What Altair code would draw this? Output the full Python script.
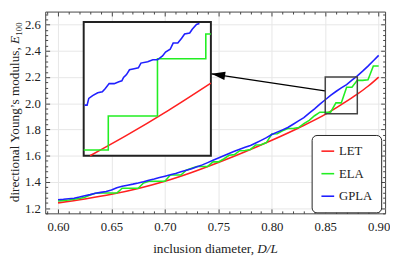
import math
import altair as alt
import pandas as pd

# ---------------- data ----------------
SERIES = ["LET", "ELA", "GPLA"]
COLORS = ["#ff2020", "#22ee22", "#2020ff"]

X_MAIN = [0.600, 0.605, 0.610, 0.615, 0.620, 0.625, 0.630, 0.635, 0.640, 0.645,
          0.650, 0.655, 0.660, 0.665, 0.670, 0.675, 0.680, 0.685, 0.690, 0.695,
          0.700, 0.705, 0.710, 0.715, 0.720, 0.725, 0.730, 0.735, 0.740, 0.745,
          0.750, 0.755, 0.760, 0.765, 0.770, 0.775, 0.780, 0.785, 0.790, 0.795,
          0.800, 0.805, 0.810, 0.815, 0.820, 0.825, 0.830, 0.835, 0.840, 0.845,
          0.850, 0.855, 0.860, 0.865, 0.870, 0.875, 0.880, 0.885, 0.890, 0.895,
          0.900]
ELA_MAIN = [1.254, 1.258, 1.262, 1.267, 1.274, 1.283, 1.300, 1.313, 1.315, 1.315,
            1.315, 1.315, 1.352, 1.352, 1.352, 1.352, 1.392, 1.405, 1.405, 1.405,
            1.405, 1.452, 1.452, 1.452, 1.489, 1.505, 1.518, 1.518, 1.518, 1.553,
            1.553, 1.575, 1.603, 1.608, 1.638, 1.640, 1.648, 1.682, 1.684, 1.700,
            1.765, 1.768, 1.790, 1.807, 1.808, 1.815, 1.845, 1.870, 1.905, 1.932,
            1.932, 1.932, 2.003, 2.003, 2.123, 2.123, 2.175, 2.175, 2.180, 2.284,
            2.284]
GPLA_MAIN = [1.264, 1.267, 1.271, 1.275, 1.284, 1.294, 1.303, 1.313, 1.320, 1.326,
             1.338, 1.356, 1.366, 1.375, 1.383, 1.392, 1.402, 1.413, 1.423, 1.434,
             1.444, 1.454, 1.465, 1.477, 1.489, 1.501, 1.516, 1.530, 1.547, 1.565,
             1.582, 1.600, 1.617, 1.634, 1.650, 1.664, 1.678, 1.697, 1.717, 1.738,
             1.762, 1.780, 1.797, 1.815, 1.840, 1.866, 1.890, 1.925, 1.958, 1.993,
             2.027, 2.060, 2.090, 2.118, 2.142, 2.177, 2.210, 2.245, 2.284, 2.325,
             2.366]
LET_X = [0.600, 0.625, 0.650, 0.675, 0.700, 0.725, 0.750, 0.775, 0.800, 0.825,
         0.850, 0.865, 0.880, 0.890, 0.900]
LET_Y = [1.240, 1.270, 1.305, 1.350, 1.405, 1.472, 1.548, 1.630, 1.718, 1.812,
         1.915, 1.990, 2.070, 2.130, 2.200]

# zoomed region (inset) data
ZOOM_X = [0.85, 0.88]
ZOOM_Y = [1.92, 2.20]
INSET_GPLA_X = [0.8502, 0.8508, 0.8512, 0.8521, 0.8533, 0.8544, 0.8551, 0.8560,
                0.8572, 0.8583, 0.8590, 0.8594, 0.8601, 0.8608, 0.8619, 0.8629,
                0.8635, 0.8651, 0.8663, 0.8674, 0.8686, 0.8693, 0.8704, 0.8711,
                0.8722, 0.8731, 0.8738, 0.8750, 0.8756, 0.8766, 0.8773]
INSET_GPLA_Y = [2.026, 2.026, 2.040, 2.046, 2.052, 2.054, 2.061, 2.071,
                2.071, 2.075, 2.077, 2.084, 2.090, 2.100, 2.102, 2.104,
                2.114, 2.117, 2.121, 2.121, 2.129, 2.137, 2.143, 2.156,
                2.156, 2.166, 2.175, 2.177, 2.185, 2.195, 2.197]
INSET_ELA_X = [0.8500, 0.8558, 0.8674, 0.8788, 0.8800]
INSET_ELA_Y = [1.932, 2.003, 2.123, 2.175, 2.175]
INSET_LET_X = [0.8515, 0.8600, 0.8700, 0.8800]
INSET_LET_Y = [1.920, 1.962, 2.015, 2.072]

# ---------------- layout ----------------
W, H = 347, 206
XDOM = [0.588, 0.906]
YDOM = [1.16, 2.70]
FONT = "Liberation Serif"
INK = "#222"
FRAME = "#444"

INSET_AT_X = [0.624, 0.743]      # inset placement in main data coordinates
INSET_AT_Y = [1.60, 2.62]
ARROW_FROM = (0.8496, 2.095)
ARROW_TO = (0.7435, 2.225)


def px(v):
    return (v - XDOM[0]) / (XDOM[1] - XDOM[0]) * W


def py(v):
    return (YDOM[1] - v) / (YDOM[1] - YDOM[0]) * H


xs = alt.Scale(domain=XDOM, nice=False, zero=False)
ys = alt.Scale(domain=YDOM, nice=False, zero=False)
cscale = alt.Scale(domain=SERIES, range=COLORS)

X_MAJOR = [k / 100 for k in range(60, 91, 5)]
X_MINOR = [k / 100 for k in range(59, 91) if k % 5 != 0]
Y_MAJOR = [k / 10 for k in range(12, 27, 2)]
Y_MINOR = [round(k * 0.04, 2) for k in range(29, 68) if k % 5 != 0]


def tick_axis(orient, offset, values, size):
    return alt.Axis(orient=orient, offset=offset, values=values, labels=False,
                    domain=False, grid=False, ticks=True, tickSize=size,
                    tickColor=FRAME, tickWidth=1, title=None)


x_lab = alt.Axis(orient="bottom", values=X_MAJOR, format=".2f", ticks=False, tickSize=0,
                 domain=False, grid=True, gridColor="#e6e6e6", gridWidth=1,
                 labelPadding=8, labelFont=FONT, labelFontSize=13, labelColor=INK, title=None)
y_lab = alt.Axis(orient="left", values=Y_MAJOR, format=".1f", ticks=False, tickSize=0,
                 domain=False, grid=True, gridColor="#e6e6e6", gridWidth=1,
                 labelPadding=5, labelFont=FONT, labelFontSize=13, labelColor=INK, title=None)

legend = alt.Legend(orient="none", legendX=W - 75, legendY=H - 80, title=None,
                    strokeColor=INK, fillColor="white", cornerRadius=5, padding=9,
                    symbolType="stroke", symbolSize=169, symbolStrokeWidth=1.6,
                    labelFont=FONT, labelFontSize=13, labelColor=INK,
                    rowPadding=8, labelOffset=4)

let_df = pd.DataFrame({"x": LET_X, "y": LET_Y, "series": "LET"})
ela_df = pd.DataFrame({"x": X_MAIN, "y": ELA_MAIN, "series": "ELA"})
gpla_df = pd.DataFrame({"x": X_MAIN, "y": GPLA_MAIN, "series": "GPLA"})


def color_enc():
    return alt.Color("series:N", scale=cscale, legend=legend)


let_line = alt.Chart(let_df).mark_line(interpolate="monotone", strokeWidth=1.6).encode(
    x=alt.X("x:Q", scale=xs, axis=x_lab),
    y=alt.Y("y:Q", scale=ys, axis=y_lab),
    color=color_enc())
ela_line = alt.Chart(ela_df).mark_line(strokeWidth=1.6).encode(
    x=alt.X("x:Q", scale=xs, axis=tick_axis("top", -H, X_MAJOR, 4.5)),
    y=alt.Y("y:Q", scale=ys, axis=tick_axis("right", -W, Y_MAJOR, 4.5)),
    color=color_enc())
gpla_line = alt.Chart(gpla_df).mark_line(strokeWidth=1.6).encode(
    x=alt.X("x:Q", scale=xs, axis=tick_axis("top", -H, X_MINOR, 2.5)),
    y=alt.Y("y:Q", scale=ys, axis=tick_axis("right", -W, Y_MINOR, 2.5)),
    color=color_enc())

inset_frame = alt.Chart(pd.DataFrame({"x0": [INSET_AT_X[0]], "x1": [INSET_AT_X[1]],
                                      "y0": [INSET_AT_Y[0]], "y1": [INSET_AT_Y[1]]})
                        ).mark_rect(fill="white", stroke="#222", strokeWidth=2).encode(
    x=alt.X("x0:Q", scale=xs, axis=tick_axis("bottom", -H, X_MAJOR, 4.5)), x2="x1:Q",
    y=alt.Y("y0:Q", scale=ys, axis=tick_axis("left", -W, Y_MAJOR, 4.5)), y2="y1:Q")

zoom_box = alt.Chart(pd.DataFrame({"x0": [ZOOM_X[0]], "x1": [ZOOM_X[1]],
                                   "y0": [ZOOM_Y[0]], "y1": [ZOOM_Y[1]]})
                     ).mark_rect(fillOpacity=0, stroke="#444", strokeWidth=1.5).encode(
    x=alt.X("x0:Q", scale=xs, axis=tick_axis("bottom", -H, X_MINOR, 2.5)), x2="x1:Q",
    y=alt.Y("y0:Q", scale=ys, axis=tick_axis("left", -W, Y_MINOR, 2.5)), y2="y1:Q")

arrow_df = pd.DataFrame({"x0": [ARROW_FROM[0]], "y0": [ARROW_FROM[1]],
                         "x1": [ARROW_TO[0]], "y1": [ARROW_TO[1]]})
arrow_rule = alt.Chart(arrow_df).mark_rule(color="black", strokeWidth=1.4).encode(
    x=alt.X("x0:Q", scale=xs, axis=None), x2="x1:Q",
    y=alt.Y("y0:Q", scale=ys, axis=None), y2="y1:Q")
ang = math.degrees(math.atan2(py(ARROW_FROM[1]) - py(ARROW_TO[1]),
                              px(ARROW_FROM[0]) - px(ARROW_TO[0])))
arrow_head = alt.Chart(arrow_df).mark_point(
    shape="M0,0 L2,-0.62 L2,0.62 Z", filled=True, size=196, angle=ang,
    color="black", opacity=1, strokeWidth=0).encode(
    x=alt.X("x1:Q", scale=xs, axis=None),
    y=alt.Y("y1:Q", scale=ys, axis=None))

main = alt.layer(let_line, ela_line, gpla_line, inset_frame, zoom_box,
                 arrow_rule, arrow_head).resolve_axis(x="independent", y="independent")

# ---------------- inset ----------------
ixs = alt.Scale(domain=ZOOM_X, range=[px(INSET_AT_X[0]), px(INSET_AT_X[1])], nice=False, zero=False)
iys = alt.Scale(domain=ZOOM_Y, range=[py(INSET_AT_Y[0]), py(INSET_AT_Y[1])], nice=False, zero=False)


def inset_line(xv, yv, col, interp="linear"):
    return alt.Chart(pd.DataFrame({"x": xv, "y": yv})).mark_line(
        color=col, strokeWidth=1.6, interpolate=interp).encode(
        x=alt.X("x:Q", scale=ixs, axis=None),
        y=alt.Y("y:Q", scale=iys, axis=None))


inset = alt.layer(
    inset_line(INSET_LET_X, INSET_LET_Y, COLORS[0], "monotone"),
    inset_line(INSET_ELA_X, INSET_ELA_Y, COLORS[1], "step-after"),
    inset_line(INSET_GPLA_X, INSET_GPLA_Y, COLORS[2]),
)

# ---------------- axis titles (mixed upright / italic) ----------------
one = pd.DataFrame({"k": [0]})
XT_Y = H + 40
XT_X = W / 2 + 43
YT_X = -27
YT_Y = H / 2 - 70


def txt(text, x, y, **kw):
    base = dict(font=FONT, fontSize=13.5, color=INK, baseline="alphabetic")
    base.update(kw)
    return alt.Chart(one).mark_text(text=text, **base).encode(
        x=alt.value(x), y=alt.value(y))


titles = alt.layer(
    txt("inclusion diameter,", XT_X, XT_Y, align="right", dx=-3.4),
    txt("D/L", XT_X, XT_Y, align="left", fontStyle="italic"),
    txt("directional Young\u2019s modulus,", YT_X, YT_Y, align="right", angle=270, dx=-3.4),
    txt("E", YT_X, YT_Y, align="left", angle=270, fontStyle="italic"),
    txt("100", YT_X, YT_Y, align="left", angle=270, fontSize=9, dx=8.4, dy=3),
)

chart = alt.layer(main, inset, titles).resolve_scale(
    x="independent", y="independent"
).properties(
    width=W, height=H,
    autosize=alt.AutoSizeParams(type="none"),
    padding={"left": 38, "top": 1, "right": 5, "bottom": 46},
).configure_view(stroke=FRAME, strokeWidth=1)

chart.save("out.html", embed_options={"renderer": "svg", "actions": False})
